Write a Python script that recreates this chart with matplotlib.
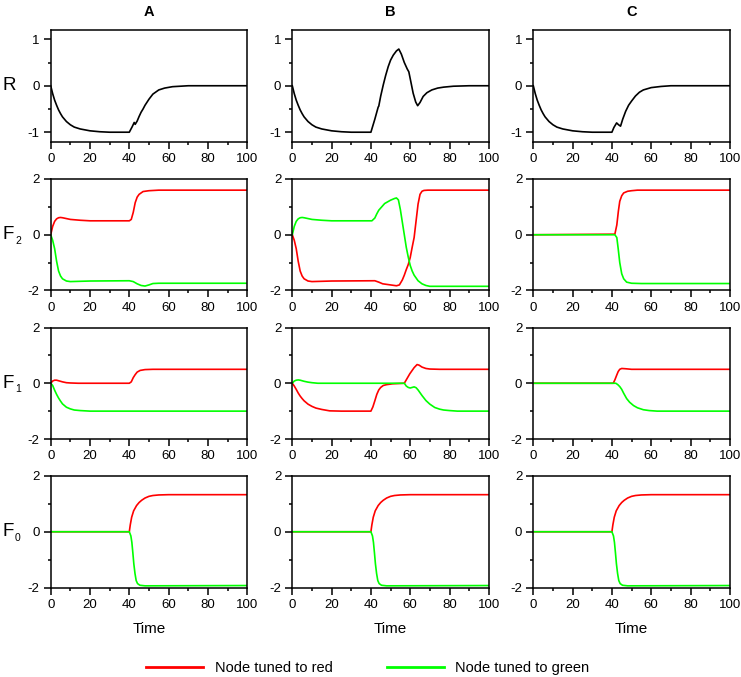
import matplotlib
matplotlib.use("Agg")
import matplotlib.pyplot as plt
from matplotlib.ticker import MultipleLocator

plt.rcParams['font.family'] = ['Liberation Sans', 'DejaVu Sans']
plt.rcParams['axes.unicode_minus'] = False

RED = '#ff0000'
GREEN = '#00ff00'

# --- R (response), black curve ---
t_decay = [0, 1, 2, 3, 4, 5, 6, 8, 10, 12, 15, 20, 25, 30, 40]
r_decay = [0, -0.17, -0.31, -0.42, -0.52, -0.60, -0.67, -0.77, -0.84, -0.89, -0.93, -0.97, -0.99, -1.0, -1.0]

t_r_a = t_decay + [41.5, 42.5, 43, 44, 45, 46, 47, 48, 50, 52, 55, 58, 62, 66, 70, 100]
r_a = r_decay + [-0.88, -0.79, -0.83, -0.76, -0.66, -0.57, -0.50, -0.42, -0.29, -0.18, -0.09, -0.05, -0.02, -0.01, 0, 0]

t_r_b = t_decay + [42, 43.7, 44, 45, 46.3, 47.5, 48.8, 50, 51.4, 53, 54.2, 55.5, 57, 58.5, 59.3,
                   60.5, 61.5, 62.8, 63.8, 65, 66.6, 68.5, 71, 74, 77, 82, 90, 100]
r_b = r_decay + [-0.72, -0.46, -0.44, -0.22, 0.02, 0.22, 0.41, 0.55, 0.66, 0.75, 0.79, 0.68, 0.5, 0.36, 0.3,
                 0.05, -0.16, -0.35, -0.43, -0.36, -0.23, -0.15, -0.09, -0.05, -0.03, -0.01, 0, 0]

t_r_c = t_decay + [41, 42.4, 43.4, 44.4, 45.5, 47, 48.5, 50, 52, 54, 56, 60, 65, 70, 100]
r_c = r_decay + [-0.9, -0.8, -0.84, -0.87, -0.72, -0.55, -0.42, -0.33, -0.22, -0.14, -0.09, -0.04, -0.015, 0, 0]

# --- F2 ---
t_f2_a_red = [0, 1, 2, 3, 4, 5, 6, 8, 10, 15, 20, 40, 41, 42, 43, 44, 45, 47, 50, 55, 100]
f2_a_red = [0, 0.3, 0.48, 0.57, 0.61, 0.62, 0.61, 0.58, 0.55, 0.52, 0.5, 0.5, 0.55, 0.8, 1.15, 1.35, 1.45, 1.55, 1.58, 1.6, 1.6]
t_f2_a_green = [0, 1, 2, 3, 4, 5, 6, 8, 10, 15, 20, 40, 42, 44, 46, 48, 50, 52, 55, 100]
f2_a_green = [0, -0.2, -0.5, -0.95, -1.3, -1.48, -1.58, -1.66, -1.68, -1.67, -1.66, -1.65, -1.68, -1.76, -1.82, -1.84, -1.8, -1.75, -1.74, -1.74]

t_f2_b_red = [0, 1, 2, 3, 4, 5, 6, 8, 10, 15, 20, 42, 44, 46, 50, 53, 54.5, 56, 57, 58, 59, 60, 61,
              62, 63, 64, 65, 66, 67, 69, 100]
f2_b_red = [0, -0.2, -0.5, -0.95, -1.3, -1.48, -1.58, -1.66, -1.68, -1.67, -1.66, -1.65, -1.7, -1.76, -1.8, -1.83, -1.8,
            -1.62, -1.45, -1.25, -1.07, -0.82, -0.45, -0.1, 0.5, 1.1, 1.45, 1.56, 1.59, 1.6, 1.6]
t_f2_b_green = [0, 1, 2, 3, 4, 5, 6, 8, 10, 15, 20, 40.5, 42, 43, 44, 45.5, 47, 50, 52, 53, 54, 55, 56,
                57, 58, 59, 60, 61, 62, 64, 66, 68, 70, 100]
f2_b_green = [0, 0.3, 0.48, 0.57, 0.61, 0.62, 0.61, 0.58, 0.55, 0.52, 0.5, 0.5, 0.6, 0.75, 0.88, 1.0, 1.12, 1.24, 1.3,
              1.32, 1.25, 0.9, 0.45, 0.0, -0.45, -0.8, -1.1, -1.3, -1.45, -1.65, -1.76, -1.82, -1.85, -1.85]

t_f2_c_red = [0, 41.5, 42.5, 43.3, 44, 45, 46, 48, 50, 53, 100]
f2_c_red = [0, 0.02, 0.35, 0.85, 1.2, 1.4, 1.5, 1.56, 1.58, 1.6, 1.6]
t_f2_c_green = [0, 41.5, 42.5, 43.2, 44, 45, 46, 47.5, 50, 55, 100]
f2_c_green = [0, 0, -0.1, -0.5, -1.0, -1.4, -1.58, -1.7, -1.74, -1.75, -1.75]

# --- F1 ---
t_f1_a_red = [0, 1, 2, 3, 4, 6, 8, 10, 14, 40, 41, 42, 43, 44, 45.5, 48, 52, 100]
f1_a_red = [0, 0.08, 0.11, 0.11, 0.09, 0.05, 0.02, 0.01, 0, 0, 0.05, 0.2, 0.31, 0.4, 0.46, 0.49, 0.5, 0.5]
t_f1_a_green = [0, 1, 2, 3, 4, 5, 6, 8, 10, 12, 15, 20, 100]
f1_a_green = [0, -0.08, -0.25, -0.4, -0.53, -0.64, -0.74, -0.86, -0.92, -0.96, -0.98, -1.0, -1.0]

t_f1_b_red = [0, 1, 2, 3, 4, 5, 6, 8, 10, 12, 15, 19, 25, 40, 41, 42, 43, 44, 45, 46.3, 48, 51, 54, 57,
              59.8, 62, 63.5, 64.5, 66, 68, 70, 75, 100]
f1_b_red = [0, -0.1, -0.22, -0.35, -0.46, -0.55, -0.63, -0.75, -0.83, -0.89, -0.94, -0.99, -1.0, -1.0, -0.85, -0.63,
            -0.4, -0.24, -0.15, -0.08, -0.05, -0.02, -0.01, 0, 0.34, 0.56, 0.67, 0.65, 0.58, 0.53, 0.51, 0.5, 0.5]
t_f1_b_green = [0, 1, 2, 3, 4, 6, 8, 10, 13, 57, 58, 59, 60, 61, 62, 63, 64, 65, 66, 68, 70, 72.5, 75, 77,
                80, 84, 100]
f1_b_green = [0, 0.08, 0.11, 0.12, 0.11, 0.07, 0.04, 0.02, 0, 0, -0.1, -0.15, -0.17, -0.15, -0.13, -0.16, -0.24,
              -0.34, -0.44, -0.62, -0.75, -0.87, -0.93, -0.96, -0.98, -1.0, -1.0]

t_f1_c_red = [0, 40.7, 41.5, 42.5, 43.2, 44, 45, 47, 50, 100]
f1_c_red = [0, 0, 0.12, 0.3, 0.42, 0.5, 0.53, 0.52, 0.5, 0.5]
t_f1_c_green = [0, 42, 43, 44, 45, 46, 47.5, 49, 51, 53, 56, 59, 63, 100]
f1_c_green = [0, 0, -0.05, -0.12, -0.22, -0.36, -0.55, -0.68, -0.8, -0.88, -0.95, -0.98, -1.0, -1.0]

# --- F0 (same in all three columns) ---
t_f0_red = [0, 40, 40.5, 41.2, 42.2, 43.7, 45, 46.3, 48, 50, 52, 55, 60, 100]
f0_red = [0, 0, 0.25, 0.52, 0.75, 0.94, 1.05, 1.13, 1.21, 1.27, 1.3, 1.32, 1.33, 1.33]
t_f0_green = [0, 40, 40.8, 41.3, 41.8, 42.3, 42.9, 43.5, 44.2, 45.4, 48, 100]
f0_green = [0, 0, -0.15, -0.38, -0.75, -1.15, -1.5, -1.75, -1.86, -1.92, -1.94, -1.93]

col_titles = ['A', 'B', 'C']
row_names = ['R', 'F', 'F', 'F']
row_subs = ['', '2', '1', '0']
legend_labels = ['Node tuned to red', 'Node tuned to green']

panels = [
    [[(t_r_a, r_a, 'black')], [(t_r_b, r_b, 'black')], [(t_r_c, r_c, 'black')]],
    [[(t_f2_a_red, f2_a_red, RED), (t_f2_a_green, f2_a_green, GREEN)],
     [(t_f2_b_red, f2_b_red, RED), (t_f2_b_green, f2_b_green, GREEN)],
     [(t_f2_c_red, f2_c_red, RED), (t_f2_c_green, f2_c_green, GREEN)]],
    [[(t_f1_a_red, f1_a_red, RED), (t_f1_a_green, f1_a_green, GREEN)],
     [(t_f1_b_red, f1_b_red, RED), (t_f1_b_green, f1_b_green, GREEN)],
     [(t_f1_c_red, f1_c_red, RED), (t_f1_c_green, f1_c_green, GREEN)]],
    [[(t_f0_red, f0_red, RED), (t_f0_green, f0_green, GREEN)]] * 3,
]

W, H = 741, 677
fig = plt.figure(figsize=(W / 100, H / 100), dpi=100)

col_left = [50.7, 292.3, 533.3]
row_top = [30, 179, 327.5, 476]
ax_w, ax_h = 196.5, 111.5

for r in range(4):
    for c in range(3):
        ax = fig.add_axes([col_left[c] / W, 1 - (row_top[r] + ax_h) / H, ax_w / W, ax_h / H])
        for t, y, color in panels[r][c]:
            ax.plot(t, y, color=color, lw=1.2, solid_joinstyle='round')
        ax.set_xlim(0, 100)
        if r == 0:
            ax.set_ylim(-1.2, 1.2)
            ax.set_yticks([-1, 0, 1])
            ax.yaxis.set_minor_locator(MultipleLocator(0.5))
        else:
            ax.set_ylim(-2, 2)
            ax.set_yticks([-2, 0, 2])
            ax.yaxis.set_minor_locator(MultipleLocator(1))
        ax.set_xticks([0, 20, 40, 60, 80, 100])
        ax.xaxis.set_minor_locator(MultipleLocator(10))
        ax.tick_params(which='major', direction='out', length=5, width=1.1, labelsize=9.5, pad=3)
        ax.tick_params(which='minor', direction='out', length=2.5, width=1.1)
        for sp in ax.spines.values():
            sp.set_linewidth(1.1)
        if r == 0:
            ax.set_title(col_titles[c], fontsize=10.5, fontweight='bold', pad=10)
        if r == 3:
            ax.set_xlabel('Time', fontsize=11, labelpad=8)
    zero_y = row_top[r] + ax_h * 0.5
    fig.text(3 / W, 1 - zero_y / H, row_names[r], fontsize=13.5, ha='left', va='center')
    if row_subs[r]:
        fig.text(15 / W, 1 - (zero_y + 6) / H, row_subs[r], fontsize=7.5, ha='left', va='center')

handles = [plt.Line2D([], [], color=RED, lw=2), plt.Line2D([], [], color=GREEN, lw=2)]
fig.legend(handles, legend_labels, loc='center', bbox_to_anchor=(368 / W, 1 - 668 / H), ncol=2,
           frameon=False, fontsize=10.5, handlelength=3.9, handletextpad=0.8, columnspacing=3.7,
           borderpad=0)

fig.savefig('out.png', dpi=100)
